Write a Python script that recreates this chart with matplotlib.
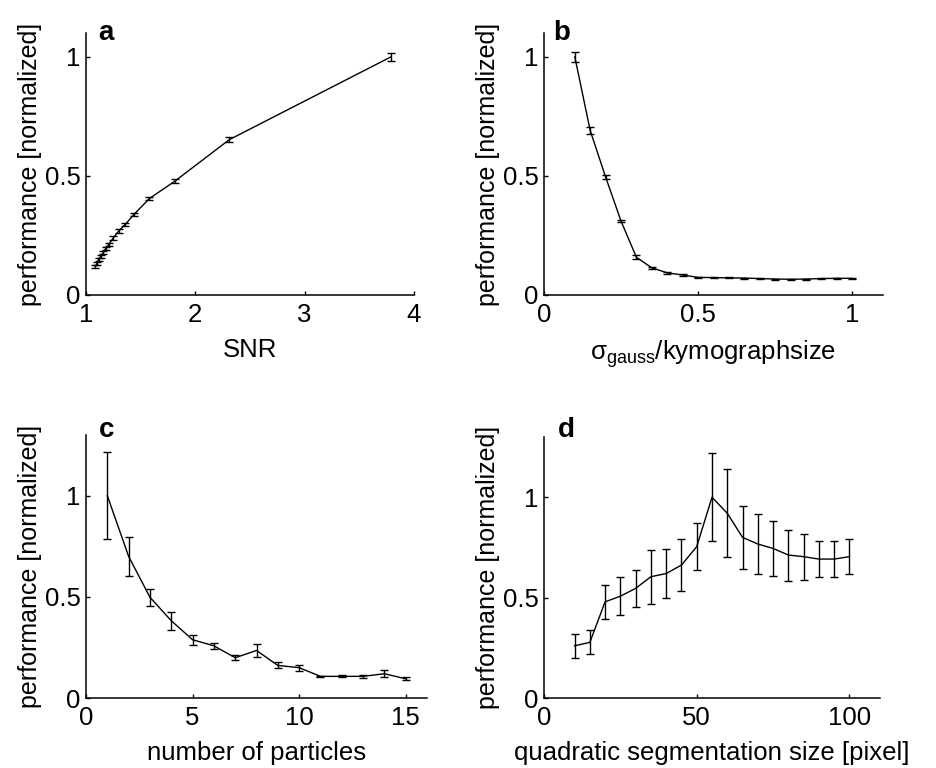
import matplotlib
matplotlib.use('Agg')
import matplotlib.pyplot as plt
from matplotlib.ticker import FormatStrFormatter

plt.rcParams['font.family'] = ['Liberation Sans', 'DejaVu Sans']
plt.rcParams['mathtext.fontset'] = 'custom'
plt.rcParams['mathtext.rm'] = 'Liberation Sans'
plt.rcParams['mathtext.it'] = 'Liberation Sans:italic'
plt.rcParams['mathtext.default'] = 'regular'

# panel a : SNR
snr = [3.79, 2.31, 1.81, 1.58, 1.44, 1.36, 1.30, 1.25, 1.21, 1.18, 1.16, 1.135, 1.115, 1.10, 1.085]
perf_a = [1.0, 0.652, 0.477, 0.405, 0.339, 0.297, 0.269, 0.240, 0.213, 0.195, 0.179, 0.163, 0.149, 0.132, 0.119]
err_a = [0.018, 0.010, 0.008, 0.008, 0.007, 0.007, 0.007, 0.007, 0.007, 0.007, 0.007, 0.007, 0.007, 0.007, 0.007]

# panel b : sigma_gauss / kymograph size
sigma = [0.10, 0.15, 0.20, 0.25, 0.30, 0.35, 0.40, 0.45, 0.50, 0.55, 0.60, 0.65,
         0.70, 0.75, 0.80, 0.85, 0.90, 0.95, 1.00]
perf_b = [1.0, 0.69, 0.495, 0.31, 0.158, 0.114, 0.093, 0.084, 0.074, 0.073, 0.072, 0.071,
          0.069, 0.067, 0.066, 0.067, 0.069, 0.070, 0.070]
err_b = [0.02, 0.016, 0.01, 0.005, 0.008, 0.004, 0.003, 0.003, 0.002, 0.002, 0.002, 0.002,
         0.002, 0.002, 0.002, 0.002, 0.002, 0.002, 0.002]

# panel c : number of particles
particles = [1, 2, 3, 4, 5, 6, 7, 8, 9, 10, 11, 12, 13, 14, 15]
perf_c = [1.0, 0.70, 0.498, 0.382, 0.288, 0.258, 0.199, 0.235, 0.161, 0.150, 0.107, 0.107, 0.107, 0.120, 0.095]
err_c = [0.215, 0.095, 0.042, 0.045, 0.024, 0.015, 0.013, 0.033, 0.015, 0.015, 0.004, 0.005, 0.007, 0.018, 0.008]

# panel d : segmentation size
seg = [10, 15, 20, 25, 30, 35, 40, 45, 50, 55, 60, 65, 70, 75, 80, 85, 90, 95, 100]
perf_d = [0.26, 0.277, 0.479, 0.507, 0.546, 0.604, 0.62, 0.662, 0.754, 1.0, 0.92, 0.80,
          0.767, 0.745, 0.712, 0.704, 0.692, 0.692, 0.704]
err_d = [0.06, 0.06, 0.085, 0.095, 0.093, 0.135, 0.124, 0.128, 0.117, 0.22, 0.22, 0.157,
         0.15, 0.139, 0.127, 0.115, 0.09, 0.09, 0.088]

W, H = 936, 768
fig = plt.figure(figsize=(W / 100, H / 100), dpi=100)

def box(l, r, b, t):
    return [l / W, 1 - b / H, (r - l) / W, (b - t) / H]

panels = [
    dict(pos=box(86, 414, 295, 33), x=snr, y=perf_a, e=err_a, xlim=(1, 4), ylim=(0, 1.1),
         xt=[1, 2, 3, 4], xl='SNR', tag='a', tagxy=(98, 40)),
    dict(pos=box(544, 883, 295, 33), x=sigma, y=perf_b, e=err_b, xlim=(0, 1.1), ylim=(0, 1.1),
         xt=[0, 0.5, 1], xl=r'$\sigma_{gauss}$/kymographsize', tag='b', tagxy=(553, 40)),
    dict(pos=box(86, 427, 698, 435), x=particles, y=perf_c, e=err_c, xlim=(0, 16), ylim=(0, 1.3),
         xt=[0, 5, 10, 15], xl='number of particles', tag='c', tagxy=(99, 437)),
    dict(pos=box(544, 880, 698, 437), x=seg, y=perf_d, e=err_d, xlim=(0, 110), ylim=(0, 1.3),
         xt=[0, 50, 100], xl='quadratic segmentation size [pixel]', tag='d', tagxy=(558, 437)),
]

for p in panels:
    ax = fig.add_axes(p['pos'])
    ax.errorbar(p['x'], p['y'], yerr=p['e'], color='black', lw=1.0, elinewidth=1.0,
                capsize=3, capthick=1.0)
    ax.set_xlim(*p['xlim'])
    ax.set_ylim(*p['ylim'])
    ax.set_xticks(p['xt'])
    ax.set_yticks([0, 0.5, 1])
    ax.xaxis.set_major_formatter(FormatStrFormatter('%g'))
    ax.yaxis.set_major_formatter(FormatStrFormatter('%g'))
    for s in ['top', 'right']:
        ax.spines[s].set_visible(False)
    for s in ['left', 'bottom']:
        ax.spines[s].set_linewidth(1.1)
    ax.tick_params(direction='in', length=3, width=1, labelsize=18.5)
    ax.tick_params(axis='x', pad=6)
    ax.tick_params(axis='y', pad=4)
    ax.set_xlabel(p['xl'], fontsize=18.5, labelpad=8)
    ax.set_ylabel('performance [normalized]', fontsize=18, labelpad=2)
    fig.text(p['tagxy'][0] / W, 1 - p['tagxy'][1] / H, p['tag'], fontsize=20,
             fontweight='bold', ha='left', va='baseline')

fig.savefig('out.png', dpi=100)
